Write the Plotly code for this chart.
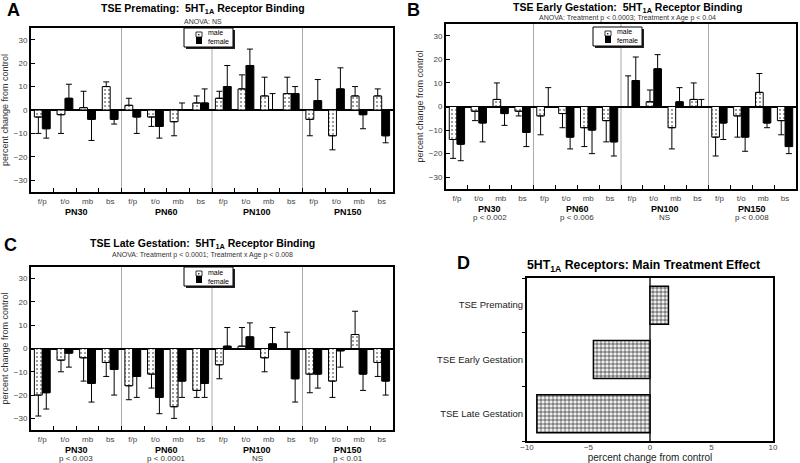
import plotly.graph_objects as go

regions = ["f/p", "t/o", "mb", "bs"]
ages = ["PN30", "PN60", "PN100", "PN150"]

# Panel A: TSE Premating
A_male = [-3, -2, 1, 10, 2, -3, -5, 3, 5, 9, 6, 7, -4, -11, 6, 6]
A_male_err = [7, 8, 7, 2, 3, 4, 6, 3, 3, 6, 8, 7, 7, 6, 4, 3]
A_female = [-8, 5, -4, -4, -3, -7, 0, 3, 10, 19, 0, 7, 4, 9, -2, -11]
A_female_err = [4, 6, 9, 2, 7, 5, 3, 6, 9, 7, 7, 3, 9, 9, 6, 3]

# Panel B: TSE Early Gestation
B_male = [-14, -2, 3, -2, -4, -3, -9, -6, 0, 2, -9, 3, -13, -4, 6, -6]
B_male_err = [8, 4, 7, 2, 8, 6, 8, 9, 13, 5, 9, 7, 8, 9, 8, 6]
B_female = [-16, -7, -3, -11, 0, -13, -10, -15, 11, 16, 2, 0, -7, -13, -7, -17]
B_female_err = [7, 8, 5, 6, 8, 5, 10, 6, 10, 6, 6, 3, 7, 6, 2, 3]

# Panel C: TSE Late Gestation
C_male = [-20, -5, -4, -6, -16, -11, -25, -18, -7, 1, -4, 0, -11, -14, 6, -6]
C_male_err = [9, 5, 10, 6, 6, 6, 5, 3, 6, 8, 6, 7, 8, 7, 10, 6]
C_female = [-19, -2, -15, -9, -12, -21, -14, -15, 1, 5, 2, -13, -11, -1, -11, -14]
C_female_err = [7, 6, 8, 11, 9, 7, 7, 6, 8, 6, 7, 10, 6, 7, 7, 6]

B_pvals = ["p < 0.002", "p < 0.006", "NS", "p < 0.008"]
C_pvals = ["p < 0.003", "p < 0.0001", "NS", "p < 0.01"]

# Panel D: main treatment effect
D_labels = ["TSE Premating", "TSE Early Gestation", "TSE Late Gestation"]
D_values = [1.5, -4.6, -9.2]

sexes = ["male", "female"]

FONT = "Liberation Sans, Arial, Helvetica, sans-serif"
W, H = 800, 463


def px_x(p):
    return p / W


def px_y(p):
    return 1 - p / H


panels = [
    dict(s="", male=A_male, merr=A_male_err, female=A_female, ferr=A_female_err,
         dx=(31, 393), dy=(28, 192), legtop=28, pvals=None,
         title="<b>TSE Premating: &nbsp;5HT<sub>1A</sub> Receptor Binding</b>",
         sub="ANOVA: NS", tx=203, ty=9, sy=21, letter="A", lx=13, ly=10),
    dict(s="2", male=B_male, merr=B_male_err, female=B_female, ferr=B_female_err,
         dx=(446, 796), dy=(24, 189), legtop=27, pvals=B_pvals,
         title="<b>TSE Early Gestation: &nbsp;5HT<sub>1A</sub> Receptor Binding</b>",
         sub="ANOVA: Treatment p < 0.0003; Treatment x Age p < 0.04", tx=627, ty=8, sy=18,
         letter="B", lx=413, ly=10),
    dict(s="3", male=C_male, merr=C_male_err, female=C_female, ferr=C_female_err,
         dx=(31, 393), dy=(267, 430), legtop=267, pvals=C_pvals,
         title="<b>TSE Late Gestation: &nbsp;5HT<sub>1A</sub> Receptor Binding</b>",
         sub="ANOVA: Treatment p < 0.0001; Treatment x Age p < 0.008", tx=203, ty=244, sy=255,
         letter="C", lx=10, ly=245),
]

fig = go.Figure()
annotations = []
shapes = []
n = len(regions) * len(ages)
xpos = list(range(n))

MALE_MARKER = dict(color="white", line=dict(color="black", width=1),
                   pattern=dict(shape=".", fgcolor="black", bgcolor="white",
                                size=4, solidity=0.2))
FEMALE_MARKER = dict(color="black", line=dict(color="black", width=1))


def split_err(vals, errs):
    up = [e if v >= 0 else 0 for v, e in zip(vals, errs)]
    dn = [e if v < 0 else 0 for v, e in zip(vals, errs)]
    return up, dn


def rect(x0, y0, x1, y1, fill, line_color=None, line_width=0):
    return dict(type="rect", xref="paper", yref="paper",
                x0=px_x(x0), x1=px_x(x1), y0=px_y(y1), y1=px_y(y0),
                fillcolor=fill, line=dict(color=line_color or fill, width=line_width),
                layer="above")


for i, p in enumerate(panels):
    s = p["s"]
    mu, md = split_err(p["male"], p["merr"])
    fu, fd = split_err(p["female"], p["ferr"])
    fig.add_trace(go.Bar(
        x=xpos, y=p["male"], name=sexes[0], xaxis="x" + s, yaxis="y" + s,
        showlegend=False, marker=MALE_MARKER,
        error_y=dict(type="data", symmetric=False, array=mu, arrayminus=md,
                     color="black", thickness=1, width=3),
    ))
    fig.add_trace(go.Bar(
        x=xpos, y=p["female"], name=sexes[1], xaxis="x" + s, yaxis="y" + s,
        showlegend=False, marker=FEMALE_MARKER,
        error_y=dict(type="data", symmetric=False, array=fu, arrayminus=fd,
                     color="black", thickness=1, width=3),
    ))
    x0, x1 = p["dx"]
    y0, y1 = p["dy"]
    fig.layout["xaxis" + s] = dict(
        domain=[px_x(x0), px_x(x1)], anchor="y" + s, range=[-0.5, n - 0.5],
        tickvals=xpos, ticktext=regions * len(ages), ticks="", showgrid=False,
        zeroline=False, showline=True, mirror=True, linecolor="black", linewidth=2,
        tickfont=dict(size=8, color="#444", family=FONT),
        minor=dict(tickvals=[k + 0.5 for k in range(n - 1)], ticks="inside",
                   ticklen=4, tickcolor="black", tickwidth=1, showgrid=False),
    )
    fig.layout["yaxis" + s] = dict(
        domain=[px_y(y1), px_y(y0)], anchor="x" + s, range=[-35, 35],
        tickvals=[-30, -20, -10, 0, 10, 20, 30], ticks="inside", ticklen=4,
        tickcolor="black", showgrid=False, zeroline=True, zerolinecolor="black",
        zerolinewidth=1.5, showline=True, mirror=True, linecolor="black", linewidth=2,
        tickfont=dict(size=8, color="#444", family=FONT),
        title=dict(text="percent change from control",
                   font=dict(size=9, color="#333", family=FONT), standoff=4),
    )
    # separators between age groups
    for g in range(1, len(ages)):
        xs = g * len(regions) - 0.5
        shapes.append(dict(type="line", xref="x" + s, yref="y" + s + " domain",
                           x0=xs, x1=xs, y0=0, y1=1, line=dict(color="#aaa", width=1),
                           layer="below"))
    # age labels
    for g, age in enumerate(ages):
        cx = g * len(regions) + (len(regions) - 1) / 2
        annotations.append(dict(text="<b>" + age + "</b>", x=cx, xref="x" + s,
                                y=0, yref="y" + s + " domain", xanchor="center",
                                yanchor="top", yshift=-13, showarrow=False,
                                font=dict(size=9, color="black", family=FONT)))
        if p["pvals"]:
            annotations.append(dict(text=p["pvals"][g], x=cx, xref="x" + s,
                                    y=0, yref="y" + s + " domain", xanchor="center",
                                    yanchor="top", yshift=-22, showarrow=False,
                                    font=dict(size=8, color="#333", family=FONT)))
    annotations.append(dict(text=p["title"], x=px_x(p["tx"]), y=px_y(p["ty"]),
                            xref="paper", yref="paper", xanchor="center",
                            yanchor="middle", showarrow=False,
                            font=dict(size=10.5, color="black", family=FONT)))
    annotations.append(dict(text=p["sub"], x=px_x(p["tx"]), y=px_y(p["sy"]),
                            xref="paper", yref="paper", xanchor="center",
                            yanchor="middle", showarrow=False,
                            font=dict(size=7, color="#333", family=FONT)))
    annotations.append(dict(text="<b>" + p["letter"] + "</b>", x=px_x(p["lx"]),
                            y=px_y(p["ly"]), xref="paper", yref="paper",
                            xanchor="center", yanchor="middle", showarrow=False,
                            font=dict(size=18, color="black", family=FONT)))
    # custom legend box (male / female)
    cxp = (x0 + x1) / 2
    lt = p["legtop"]
    bl, br, bb = cxp - 28, cxp + 21, lt + 19
    shapes.append(rect(bl + 2, lt + 2, br + 2, bb + 2, "#222"))
    shapes.append(rect(bl, lt, br, bb, "white", "black", 1))
    shapes.append(rect(bl + 12, lt + 4, bl + 18, lt + 9, "white", "black", 0.8))
    shapes.append(dict(type="circle", xref="paper", yref="paper",
                       x0=px_x(bl + 14), x1=px_x(bl + 15.5), y0=px_y(lt + 7.5),
                       y1=px_y(lt + 6), fillcolor="black", line=dict(width=0),
                       layer="above"))
    shapes.append(rect(bl + 12, lt + 9, bl + 18, lt + 16, "black"))
    annotations.append(dict(text=sexes[0] + "<br>" + sexes[1], x=px_x(bl + 23),
                            y=px_y(lt + 9.5), xref="paper", yref="paper",
                            xanchor="left", yanchor="middle", align="left",
                            showarrow=False, borderpad=0,
                            font=dict(size=7, color="black", family=FONT)))

# Panel D
fig.add_trace(go.Bar(
    x=D_values, y=D_labels, orientation="h", xaxis="x4", yaxis="y4",
    showlegend=False, width=0.7,
    marker=dict(color="white", line=dict(color="black", width=1.5),
                pattern=dict(shape=".", fgcolor="black", bgcolor="white",
                             size=4, solidity=0.65)),
))
fig.layout["xaxis4"] = dict(
    domain=[px_x(527), px_x(773)], anchor="y4", range=[-10, 10],
    tickvals=[-10, -5, 0, 5, 10], ticks="", showgrid=False, zeroline=True,
    zerolinecolor="#555", zerolinewidth=1.5, showline=True, mirror=True,
    linecolor="black", linewidth=2, ticklabelstandoff=-3,
    tickfont=dict(size=8, color="#444", family=FONT),
    title=dict(text="percent change from control",
               font=dict(size=10, color="#222", family=FONT), standoff=0),
)
fig.layout["yaxis4"] = dict(
    domain=[px_y(441), px_y(278)], anchor="x4", categoryorder="array",
    categoryarray=D_labels[::-1], tickson="boundaries", ticks="outside", ticklen=3,
    tickcolor="black", showgrid=False, showline=True, mirror=True,
    linecolor="black", linewidth=2,
    tickfont=dict(size=9.5, color="#222", family=FONT),
)
annotations.append(dict(text="<b>5HT<sub>1A</sub> Receptors: Main Treatment Effect</b>",
                        x=px_x(643), y=px_y(266), xref="paper", yref="paper",
                        xanchor="center", yanchor="middle",
                        showarrow=False, font=dict(size=12.3, color="black", family=FONT)))
annotations.append(dict(text="<b>D</b>", x=px_x(463), y=px_y(263), xref="paper",
                        yref="paper", xanchor="center", yanchor="middle",
                        showarrow=False,
                        font=dict(size=18, color="black", family=FONT)))

fig.update_layout(
    width=W, height=H, margin=dict(l=0, r=0, t=0, b=0, autoexpand=False),
    paper_bgcolor="white", plot_bgcolor="white",
    barmode="group", bargap=0.3, bargroupgap=0,
    annotations=annotations, shapes=shapes,
    font=dict(family=FONT), showlegend=False,
)

fig.write_html("out.html", config={"displayModeBar": False},
               post_script="document.body.style.margin='0px';document.body.style.overflow='hidden';")
